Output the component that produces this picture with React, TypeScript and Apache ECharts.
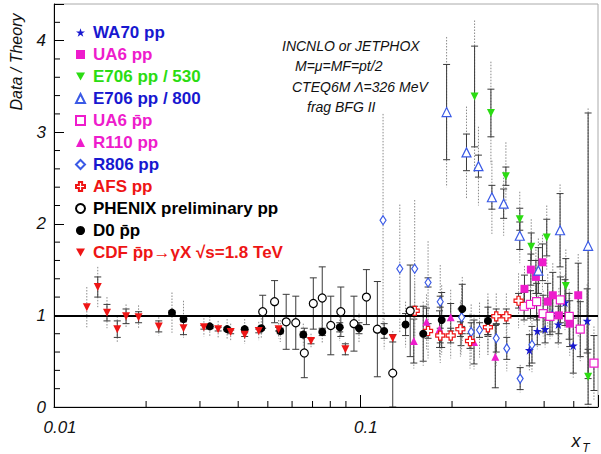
import React, { useEffect, useRef } from 'react';
import * as echarts from 'echarts';

const FONT = '"Liberation Sans", Arial, Helvetica, sans-serif';
const BLUE = '#1818d0';
const LBLUE = '#3a5ae6';
const MAGENTA = '#ee1ccc';
const GREEN = '#2bdc12';
const RED = '#ee1515';
const BLACK = '#000000';

// ---------- data ----------
const wa70X = [0.358, 0.380, 0.403, 0.425, 0.445, 0.468, 0.498, 0.553];
const wa70Y = [0.62, 0.83, 0.85, 1.02, 0.90, 1.14, 0.67, 0.94];
const wa70Stat = [0.17, 0.15, 0.15, 0.2, 0.2, 0.25, 0.3, 0.35];
const wa70Sys = [0.22, 0.2, 0.2, 0.25, 0.25, 0.3, 0.35, 0.4];

const ua6X = [0.345, 0.362, 0.376, 0.395, 0.411, 0.427, 0.447, 0.485, 0.517];
const ua6Y = [1.29, 1.50, 1.42, 1.58, 1.15, 1.22, 1.00, 0.91, 1.22];
const ua6Stat = [0.15, 0.17, 0.18, 0.2, 0.2, 0.25, 0.2, 0.25, 0.35];
const ua6Sys = [0.25, 0.3, 0.3, 0.3, 0.3, 0.35, 0.3, 0.35, 0.45];

const e530X = [0.237, 0.268, 0.300, 0.333, 0.363, 0.408, 0.471, 0.557];
const e530Y = [3.39, 3.21, 2.52, 2.05, 1.75, 1.85, 1.32, 0.33];
const e530Stat = [0.55, 0.26, 0.1, 0.12, 0.15, 0.2, 0.3, 0.3];
const e530Sys = [0.83, 0.56, 0.37, 0.3, 0.3, 0.35, 0.4, 0.4];

const e800X = [0.192, 0.223, 0.244, 0.270, 0.295, 0.333, 0.383, 0.451, 0.557];
const e800Y = [3.22, 2.78, 2.63, 2.29, 2.22, 1.87, 1.49, 1.93, 1.76];
const e800Stat = [0.52, 0.2, 0.12, 0.13, 0.16, 0.15, 0.25, 0.4, 1.45];
const e800Sys = [0.82, 0.5, 0.43, 0.4, 0.35, 0.3, 0.35, 0.5, 1.5];

const ua6bX = [0.344, 0.361, 0.378, 0.397, 0.418, 0.452, 0.483, 0.525, 0.582];
const ua6bY = [1.10, 1.12, 1.15, 1.02, 0.99, 1.17, 0.99, 0.85, 0.48];
const ua6bStat = [0.15, 0.15, 0.2, 0.2, 0.2, 0.25, 0.25, 0.3, 0.3];
const ua6bSys = [0.2, 0.2, 0.25, 0.25, 0.25, 0.3, 0.3, 0.35, 0.4];

const r110X = [0.150, 0.165, 0.182, 0.198, 0.214, 0.236, 0.277];
const r110Y = [0.72, 0.93, 0.85, 0.98, 0.87, 0.71, 0.55];
const r110Stat = [0.24, 0.15, 0.2, 0.15, 0.2, 0.24, 0.34];
const r110Sys = [0.3, 0.3, 0.3, 0.3, 0.3, 0.3, 0.36];

const r806X = [0.119, 0.135, 0.151, 0.167, 0.183, 0.215, 0.231, 0.246, 0.262, 0.279, 0.302, 0.334, 0.365];
const r806Y = [2.04, 1.51, 1.51, 1.36, 1.15, 0.98, 0.82, 0.84, 0.87, 0.75, 0.64, 0.31, 0.68];
const r806Stat = [0, 0, 0, 0.05, 0.06, 0.1, 0.1, 0.08, 0.1, 0.15, 0.12, 0.12, 0.2];
const r806Sys = [1.16, 0.7, 0.75, 0.45, 0.4, 0.35, 0.3, 0.3, 0.3, 0.3, 0.25, 0.15, 0.3];

const afsX = [0.151, 0.167, 0.183, 0.198, 0.213, 0.229, 0.262, 0.279, 0.301, 0.330];
const afsY = [1.05, 0.83, 0.78, 0.78, 0.85, 0.72, 0.87, 0.99, 0.99, 1.16];
const afsStat = [0.05, 0.08, 0.08, 0.08, 0.08, 0.08, 0.08, 0.08, 0.08, 0.08];
const afsSys = [0.3, 0.3, 0.3, 0.25, 0.3, 0.3, 0.3, 0.25, 0.25, 0.3];

const phenixX = [0.0481, 0.0526, 0.0574, 0.0617, 0.0658, 0.0704, 0.0753, 0.0803, 0.0866, 0.0956, 0.105, 0.114, 0.128, 0.146];
const phenixY = [1.04, 1.15, 0.93, 0.92, 0.59, 1.13, 1.19, 0.89, 1.04, 0.91, 1.20, 0.85, 0.37, 1.05];
const phenixStat = [0.18, 0.23, 0.3, 0.29, 0.27, 0.28, 0.34, 0.32, 0.27, 0.3, 0.3, 0.52, 0.42, 0.5];
const phenixSys = [0, 0, 0, 0, 0, 0, 0, 0, 0, 0, 0, 0, 0, 0];

const d0X = [0.0243, 0.0265, 0.0323, 0.0368, 0.0420, 0.0476, 0.0549, 0.0653, 0.0753, 0.0859, 0.0993, 0.120, 0.141, 0.161, 0.185, 0.216, 0.262];
const d0Y = [1.03, 0.96, 0.88, 0.85, 0.85, 0.86, 0.83, 0.79, 0.82, 0.87, 0.86, 0.83, 0.90, 0.80, 0.95, 1.07, 0.94];
const d0Stat = [0.02, 0.02, 0.02, 0.02, 0.02, 0.02, 0.03, 0.03, 0.04, 0.05, 0.06, 0.08, 0.12, 0.3, 0.3, 0.27, 0.15];
const d0Sys = [0.22, 0.2, 0.11, 0.11, 0.11, 0.11, 0.12, 0.12, 0.13, 0.15, 0.16, 0.2, 0.25, 0.35, 0.38, 0.35, 0.3];

const cdfX = [0.0128, 0.0139, 0.0149, 0.0161, 0.0172, 0.0189, 0.0220, 0.0265, 0.0309, 0.0344, 0.0378, 0.0420, 0.0467, 0.0542, 0.0692, 0.0896, 0.128];
const cdfY = [1.09, 1.31, 1.03, 0.85, 0.99, 0.98, 0.88, 0.86, 0.87, 0.85, 0.82, 0.79, 0.83, 0.85, 0.72, 0.63, 0.75];
const cdfStat = [0, 0.11, 0.09, 0.09, 0.08, 0.06, 0.06, 0.07, 0.02, 0.02, 0.02, 0.02, 0.02, 0.02, 0.03, 0.06, 0.04];
const cdfSys = [0.22, 0.22, 0.17, 0.14, 0.13, 0.13, 0.1, 0.1, 0.1, 0.09, 0.09, 0.1, 0.1, 0.1, 0.08, 0.08, 0.08];

const xTickLabels = ['0.01', '0.1'];
const yTickLabels = ['0', '1', '2', '3', '4'];
const xMinorTicks = [0.02, 0.03, 0.04, 0.05, 0.06, 0.07, 0.08, 0.09, 0.2, 0.3, 0.4, 0.5];
const yMinorTicks = [0.2, 0.4, 0.6, 0.8, 1.2, 1.4, 1.6, 1.8, 2.2, 2.4, 2.6, 2.8, 3.2, 3.4, 3.6, 3.8, 4.2];
const referenceLine = 1;

const annotationLines = ['INCNLO or JETPHOX', 'M=\u03bc=MF=pt/2', 'CTEQ6M \u039b=326 MeV', 'frag BFG II'];

// ---------- symbols ----------
const STAR = 'path://M5,0L6.18,3.6L10,3.6L6.9,5.85L8.1,9.5L5,7.25L1.9,9.5L3.1,5.85L0,3.6L3.82,3.6Z';
const DOWN = 'path://M0,0L10,0L5,8.66Z';
const CROSS = 'path://M3.2,0L6.8,0L6.8,3.2L10,3.2L10,6.8L6.8,6.8L6.8,10L3.2,10L3.2,6.8L0,6.8L0,3.2L3.2,3.2Z';

const sets = [
  { name: 'WA70 pp', x: wa70X, y: wa70Y, stat: wa70Stat, sys: wa70Sys, symbol: STAR, size: 9, fill: BLUE, stroke: BLUE, open: false, text: BLUE },
  { name: 'UA6 pp', x: ua6X, y: ua6Y, stat: ua6Stat, sys: ua6Sys, symbol: 'rect', size: 8, fill: MAGENTA, stroke: MAGENTA, open: false, text: MAGENTA },
  { name: 'E706 pp / 530', x: e530X, y: e530Y, stat: e530Stat, sys: e530Sys, symbol: DOWN, size: 8, fill: GREEN, stroke: GREEN, open: false, text: GREEN },
  { name: 'E706 pp / 800', x: e800X, y: e800Y, stat: e800Stat, sys: e800Sys, symbol: 'triangle', size: 9, fill: '#ffffff', stroke: LBLUE, open: true, text: BLUE },
  { name: 'UA6 p\u0304p', x: ua6bX, y: ua6bY, stat: ua6bStat, sys: ua6bSys, symbol: 'rect', size: 8, fill: '#ffffff', stroke: MAGENTA, open: true, text: MAGENTA },
  { name: 'R110 pp', x: r110X, y: r110Y, stat: r110Stat, sys: r110Sys, symbol: 'triangle', size: 8, fill: MAGENTA, stroke: MAGENTA, open: false, text: MAGENTA },
  { name: 'R806 pp', x: r806X, y: r806Y, stat: r806Stat, sys: r806Sys, symbol: 'diamond', size: [6, 9], fill: '#ffffff', stroke: LBLUE, open: true, text: BLUE },
  { name: 'AFS pp', x: afsX, y: afsY, stat: afsStat, sys: afsSys, symbol: CROSS, size: 9, fill: '#ffffff', stroke: RED, open: true, text: RED },
  { name: 'PHENIX preliminary pp', x: phenixX, y: phenixY, stat: phenixStat, sys: phenixSys, symbol: 'circle', size: 8, fill: '#ffffff', stroke: BLACK, open: true, text: BLACK },
  { name: 'D0 p\u0304p', x: d0X, y: d0Y, stat: d0Stat, sys: d0Sys, symbol: 'circle', size: 8, fill: BLACK, stroke: BLACK, open: false, text: BLACK },
  { name: 'CDF p\u0304p\u2192\u03b3X \u221as=1.8 TeV', x: cdfX, y: cdfY, stat: cdfStat, sys: cdfSys, symbol: DOWN, size: 8, fill: RED, stroke: RED, open: false, text: RED },
];

function buildOption() {
  const errRows: number[][] = [];
  sets.forEach((s) => {
    s.x.forEach((xv, i) => errRows.push([xv, s.y[i], s.stat[i], s.sys[i]]));
  });

  const tickRows: number[][] = [
    ...xMinorTicks.map((v) => [v, 0, 0]),
    ...yMinorTicks.map((v) => [0.01, v, 1]),
  ];

  const errorSeries = {
    type: 'custom',
    name: 'errors',
    z: 1,
    clip: true,
    silent: true,
    encode: { x: 0, y: 1 },
    data: errRows,
    renderItem: (params: any, api: any) => {
      const x = api.value(0);
      const y = api.value(1);
      const st = api.value(2);
      const sy = api.value(3);
      const p = api.coord([x, y]);
      const children: any[] = [];
      if (sy > 0) {
        const a = api.coord([x, y + sy]);
        const b = api.coord([x, Math.max(y - sy, 0)]);
        children.push({
          type: 'line',
          shape: { x1: p[0], y1: a[1], x2: p[0], y2: b[1] },
          style: { stroke: '#8a8a8a', lineWidth: 1, lineDash: [1.5, 1.5] },
        });
      }
      if (st > 0) {
        const a = api.coord([x, y + st]);
        const b = api.coord([x, Math.max(y - st, 0)]);
        const st1 = { stroke: '#3a3a3a', lineWidth: 1 };
        children.push({ type: 'line', shape: { x1: p[0], y1: a[1], x2: p[0], y2: b[1] }, style: st1 });
        children.push({ type: 'line', shape: { x1: p[0] - 3.5, y1: a[1], x2: p[0] + 3.5, y2: a[1] }, style: st1 });
        children.push({ type: 'line', shape: { x1: p[0] - 3.5, y1: b[1], x2: p[0] + 3.5, y2: b[1] }, style: st1 });
      }
      return { type: 'group', children };
    },
  };

  const tickSeries = {
    type: 'custom',
    name: 'ticks',
    z: 5,
    clip: false,
    silent: true,
    encode: { x: 0, y: 1 },
    data: tickRows,
    renderItem: (params: any, api: any) => {
      const p = api.coord([api.value(0), api.value(1)]);
      const kind = api.value(2);
      const shape = kind === 0
        ? { x1: p[0], y1: p[1], x2: p[0], y2: p[1] - 6 }
        : { x1: p[0], y1: p[1], x2: p[0] + 6, y2: p[1] };
      return { type: 'line', shape, style: { stroke: '#000', lineWidth: 1 } };
    },
  };

  const scatterSeries = sets.map((s, idx) => ({
    type: 'scatter',
    name: s.name,
    z: 3,
    symbol: s.symbol,
    symbolSize: s.size,
    data: s.x.map((xv, i) => [xv, s.y[i]]),
    itemStyle: {
      color: s.fill,
      borderColor: s.stroke,
      borderWidth: s.open ? 1.2 : 0,
      opacity: 1,
    },
    emphasis: { disabled: true },
    markLine: idx === 9 ? {
      silent: true,
      symbol: 'none',
      label: { show: false },
      lineStyle: { color: '#000', width: 2, type: 'solid' },
      data: [{ yAxis: referenceLine }],
      z: 2,
    } : undefined,
  }));

  const graphic: any[] = [];
  annotationLines.forEach((t, i) => {
    const xs = [282, 295, 292, 307];
    graphic.push({
      type: 'text',
      x: xs[i],
      y: 46 + i * 20.3,
      style: { text: t, fill: '#111', font: `italic 14px ${FONT}`, align: 'left', verticalAlign: 'middle' },
    });
  });
  graphic.push({
    type: 'text',
    x: 16,
    y: 62,
    rotation: Math.PI / 2,
    style: { text: 'Data / Theory', fill: '#111', font: `italic 16px ${FONT}`, align: 'center', verticalAlign: 'middle' },
  });
  graphic.push({
    type: 'text',
    x: 576,
    y: 441,
    style: { text: 'x', fill: '#111', font: `italic 18px ${FONT}`, align: 'center', verticalAlign: 'middle' },
  });
  graphic.push({
    type: 'text',
    x: 586,
    y: 448,
    style: { text: 'T', fill: '#111', font: `italic 12px ${FONT}`, align: 'center', verticalAlign: 'middle' },
  });

  return {
    animation: false,
    backgroundColor: '#ffffff',
    textStyle: { fontFamily: FONT },
    grid: { left: 54, top: 4, width: 547, height: 403, show: true, borderColor: '#aaaaaa', borderWidth: 1, backgroundColor: 'transparent' },
    legend: {
      orient: 'vertical',
      left: 70,
      top: 19,
      itemWidth: 9,
      itemHeight: 9,
      itemGap: 5.0,
      selectedMode: false,
      textStyle: { fontFamily: FONT, fontSize: 17, fontWeight: 'bold', lineHeight: 17, padding: [0, 0, 0, 3] },
      data: sets.map((s) => ({ name: s.name, textStyle: { color: s.text } })),
    },
    xAxis: {
      type: 'log',
      logBase: 10,
      min: 0.01,
      max: 0.6,
      axisLine: { show: true, onZero: false, lineStyle: { color: '#000', width: 1 } },
      axisTick: { show: true, inside: true, length: 12, lineStyle: { color: '#000' } },
      minorTick: { show: false },
      splitLine: { show: false },
      axisLabel: {
        color: '#111',
        fontFamily: FONT,
        fontStyle: 'italic',
        fontSize: 17,
        margin: 12,
        padding: [0, 0, 0, 12],
        formatter: (v: number) => {
          const hit = xTickLabels.find((l) => Math.abs(Math.log10(Number(l)) - Math.log10(v)) < 1e-6);
          return hit || '';
        },
      },
    },
    yAxis: {
      type: 'value',
      min: 0,
      max: 4.4,
      interval: 1,
      axisLine: { show: true, lineStyle: { color: '#000', width: 1 } },
      axisTick: { show: true, inside: true, length: 10, lineStyle: { color: '#000' } },
      splitLine: { show: false },
      axisLabel: {
        color: '#111',
        fontFamily: FONT,
        fontStyle: 'italic',
        fontSize: 17,
        margin: 8,
        formatter: (v: number) => (Number.isInteger(v) ? yTickLabels[v] ?? '' : ''),
      },
    },
    graphic,
    series: [errorSeries, tickSeries, ...scatterSeries],
  };
}

export default function App() {
  const ref = useRef<HTMLDivElement>(null);
  useEffect(() => {
    if (!ref.current) return;
    const chart = echarts.init(ref.current, undefined, { renderer: 'svg' });
    chart.setOption(buildOption() as any);
    return () => chart.dispose();
  }, []);
  return (
    <div
      ref={ref}
      style={{ position: 'fixed', left: 0, top: 0, width: 601, height: 454, background: '#ffffff' }}
    />
  );
}
